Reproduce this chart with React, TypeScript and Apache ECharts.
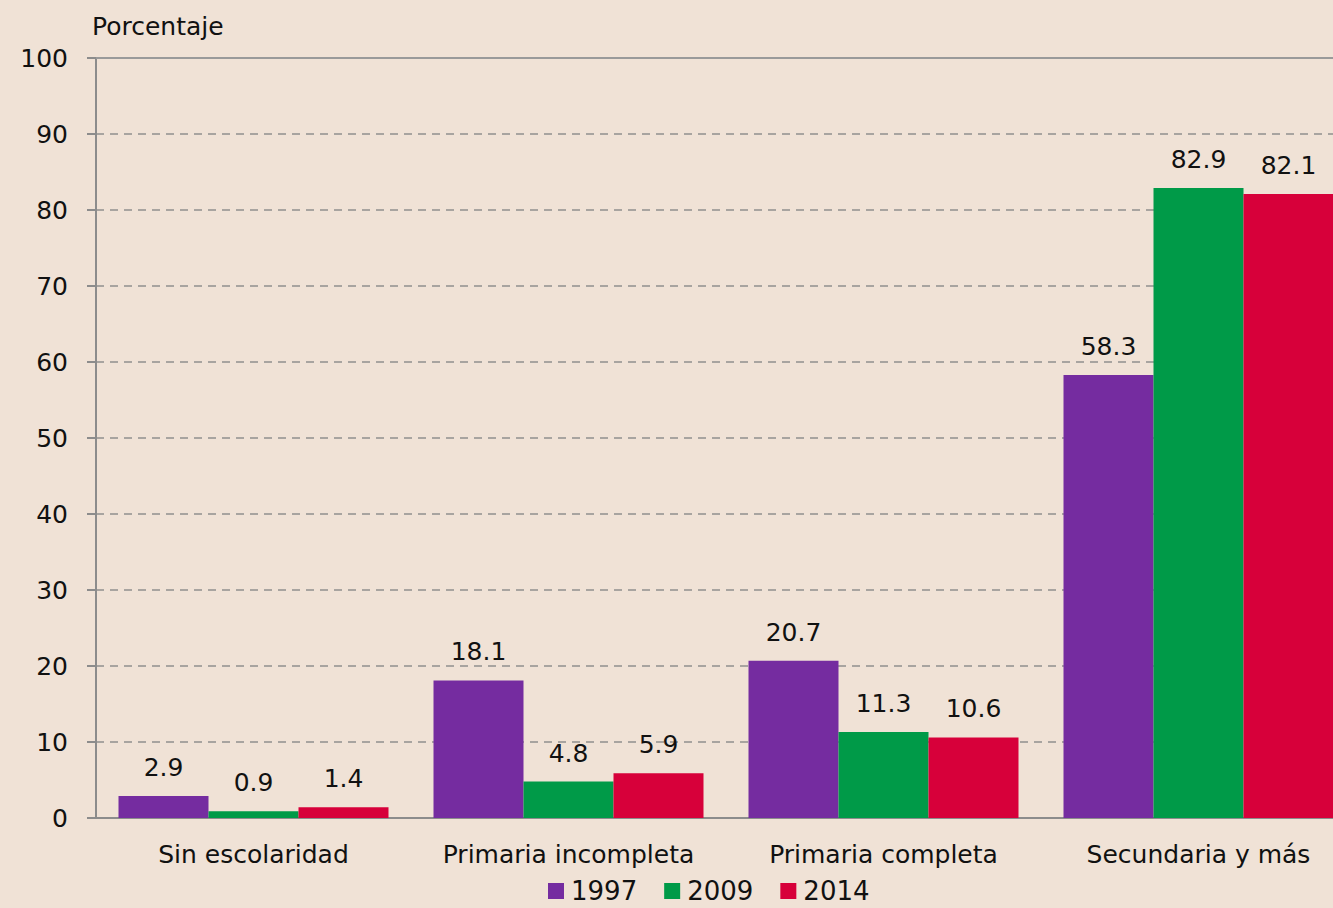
import React, { useEffect, useRef } from "react";
import * as echarts from "echarts";

const categories = ["Sin escolaridad", "Primaria incompleta", "Primaria completa", "Secundaria y más"];
const seriesNames = ["1997", "2009", "2014"];
const values1997 = [2.9, 18.1, 20.7, 58.3];
const values2009 = [0.9, 4.8, 11.3, 82.9];
const values2014 = [1.4, 5.9, 10.6, 82.1];
const colors = ["#752ca0", "#009a48", "#d7003a"];

const FONT = "DejaVu Sans";

export default function App() {
  const ref = useRef<HTMLDivElement>(null);
  useEffect(() => {
    const chart = echarts.init(ref.current!, null, { renderer: "svg" });
    const data = [values1997, values2009, values2014];
    chart.setOption({
      animation: false,
      backgroundColor: "#f0e2d6",
      textStyle: { fontFamily: FONT },
      title: {
        text: "Porcentaje",
        left: 87,
        top: 9,
        textStyle: { fontFamily: FONT, fontSize: 25, fontWeight: "normal", color: "#111" },
      },
      legend: {
        top: 873,
        left: 543,
        padding: [5, 5, 0, 5],
        itemWidth: 16,
        itemHeight: 16,
        itemGap: 27,
        icon: "rect",
        textStyle: { fontFamily: FONT, fontSize: 26, color: "#111", padding: [0, 0, 0, 2] },
        data: seriesNames,
      },
      grid: { left: 96, right: 0, top: 58, bottom: 90, containLabel: false },
      xAxis: {
        type: "category",
        data: categories,
        axisLine: { lineStyle: { color: "#8c8c8c", width: 2 } },
        axisTick: { show: false },
        axisLabel: { fontFamily: FONT, fontSize: 25, color: "#111", margin: 24, interval: 0 },
      },
      yAxis: {
        type: "value",
        min: 0,
        max: 100,
        interval: 10,
        axisLine: { show: true, lineStyle: { color: "#8c8c8c", width: 2 } },
        axisTick: { show: true, inside: false, length: 9, lineStyle: { color: "#8c8c8c", width: 2 } },
        axisLabel: { fontFamily: FONT, fontSize: 25, color: "#111", margin: 28 },
        splitLine: { lineStyle: { color: "#a8a4a0", type: [8, 6], width: 2 } },
      },
      series: seriesNames.map((name, i) => ({
        name,
        type: "bar",
        data: data[i],
        barWidth: 90,
        barGap: "0%",
        itemStyle: { color: colors[i] },
        label: {
          show: true,
          position: "top",
          distance: 16,
          fontFamily: FONT,
          fontSize: 25,
          color: "#111",
          formatter: (p: any) => p.value.toFixed(1),
        },
        markLine:
          i === 0
            ? {
                silent: true,
                symbol: "none",
                label: { show: false },
                lineStyle: { color: "#9a9a9a", type: "solid", width: 2 },
                data: [{ yAxis: 100 }],
              }
            : undefined,
      })),
    });
    return () => chart.dispose();
  }, []);
  return (
    <div style={{ position: "fixed", left: 0, top: 0, width: 1333, height: 908, overflow: "hidden" }}>
      <div ref={ref} style={{ width: 1356, height: 908 }} />
    </div>
  );
}
